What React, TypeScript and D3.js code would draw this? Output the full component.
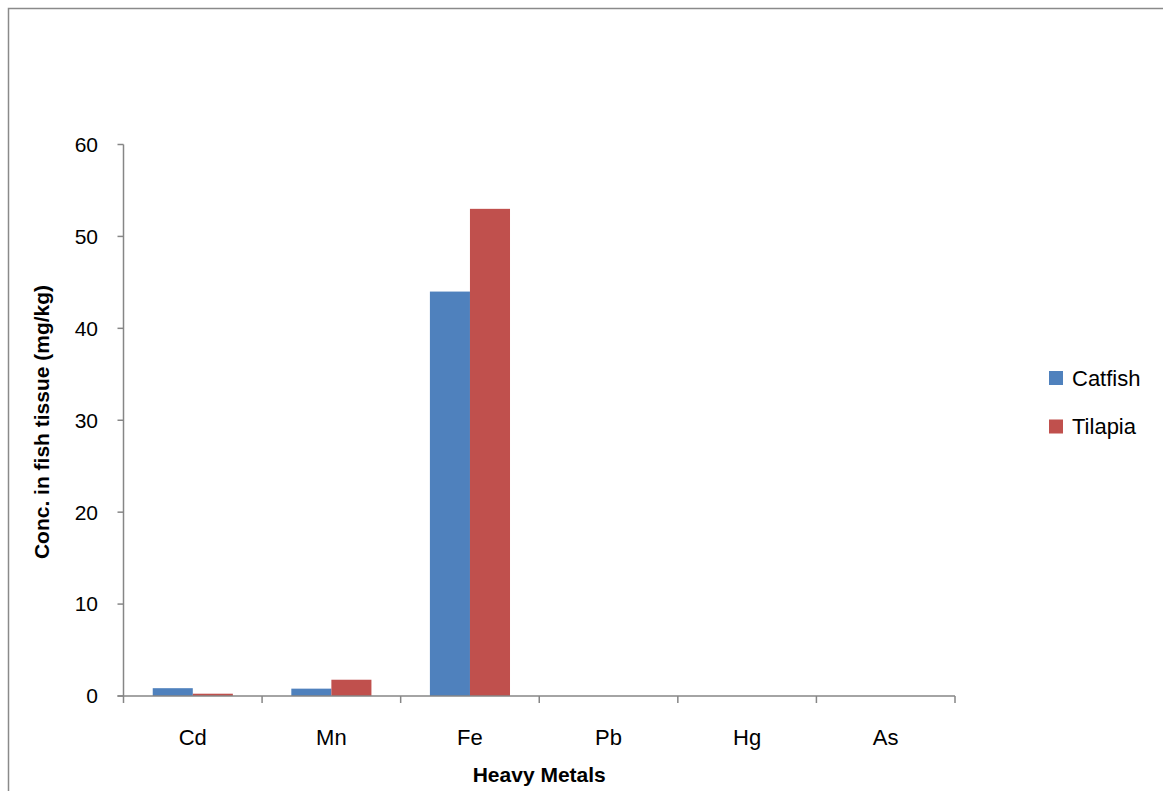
import React from "react";
import * as d3 from "d3";

const categories = ["Cd", "Mn", "Fe", "Pb", "Hg", "As"];
const catfish = [0.85, 0.8, 44, 0, 0, 0];
const tilapia = [0.25, 1.77, 53, 0, 0, 0];
const seriesNames = ["Catfish", "Tilapia"];
const seriesColors = ["#4F81BD", "#C0504D"];
const yTicks = [0, 10, 20, 30, 40, 50, 60];

const W = 1163;
const H = 791;
const plot = { left: 123.5, right: 955, top: 144.5, bottom: 696 };
const font = "'Liberation Sans', Arial, sans-serif";

export default function App() {
  const x = d3.scaleBand<string>().domain(categories).range([plot.left, plot.right]).paddingInner(0).paddingOuter(0);
  const inner = d3.scaleBand<string>().domain(seriesNames).range([0, x.bandwidth()]).paddingInner(0).paddingOuter(0.73);
  const y = d3.scaleLinear().domain([0, 60]).range([plot.bottom, plot.top]);
  const data = [catfish, tilapia];
  const axisColor = "#868686";
  const edges = categories.map((c) => x(c) as number).concat([plot.right]);

  return (
    <svg width={W} height={H} style={{ position: "absolute", left: 0, top: 0 }} fontFamily={font}>
      <rect x={0} y={0} width={W} height={H} fill="#fff" />
      <rect x={8.5} y={8.5} width={W + 20} height={H + 20} fill="none" stroke="#8a8a8a" strokeWidth={1.5} />
      {/* bars */}
      {seriesNames.map((s, si) =>
        categories.map((c, ci) => {
          const v = data[si][ci];
          if (v <= 0) return null;
          const bx = (x(c) as number) + (inner(s) as number);
          return (
            <rect key={s + c} x={bx} y={y(v)} width={inner.bandwidth()} height={y(0) - y(v)} fill={seriesColors[si]} />
          );
        })
      )}
      {/* y axis */}
      <line x1={plot.left} x2={plot.left} y1={plot.top} y2={plot.bottom} stroke={axisColor} strokeWidth={1.5} />
      {yTicks.map((t) => (
        <g key={t}>
          <line x1={plot.left - 6} x2={plot.left} y1={y(t)} y2={y(t)} stroke={axisColor} strokeWidth={1.5} />
          <text x={plot.left - 25.5} y={y(t)} dy="0.35em" textAnchor="end" fontSize={21} fill="#000">
            {t}
          </text>
        </g>
      ))}
      {/* x axis */}
      <line x1={plot.left - 6} x2={plot.right} y1={plot.bottom} y2={plot.bottom} stroke={axisColor} strokeWidth={1.5} />
      {edges.map((e, i) => (
        <line key={i} x1={e} x2={e} y1={plot.bottom} y2={plot.bottom + 7} stroke={axisColor} strokeWidth={1.5} />
      ))}
      {categories.map((c) => (
        <text key={c} x={(x(c) as number) + x.bandwidth() / 2} y={737} dy="0.35em" textAnchor="middle" fontSize={22} fill="#000">
          {c}
        </text>
      ))}
      <text x={(plot.left + plot.right) / 2} y={775} dy="0.35em" textAnchor="middle" fontSize={21} fontWeight="bold" fill="#000">
        Heavy Metals
      </text>
      <text
        transform={`translate(42,422) rotate(-90)`}
        textAnchor="middle"
        dy="0.35em"
        fontSize={21}
        fontWeight="bold"
        fill="#000"
      >
        Conc. in fish tissue (mg/kg)
      </text>
      {/* legend */}
      {seriesNames.map((s, i) => (
        <g key={s} transform={`translate(1049,${378 + i * 48.5})`}>
          <rect x={0} y={-7} width={14} height={14} fill={seriesColors[i]} />
          <text x={23} y={0} dy="0.35em" fontSize={22} fill="#000">
            {s}
          </text>
        </g>
      ))}
    </svg>
  );
}
